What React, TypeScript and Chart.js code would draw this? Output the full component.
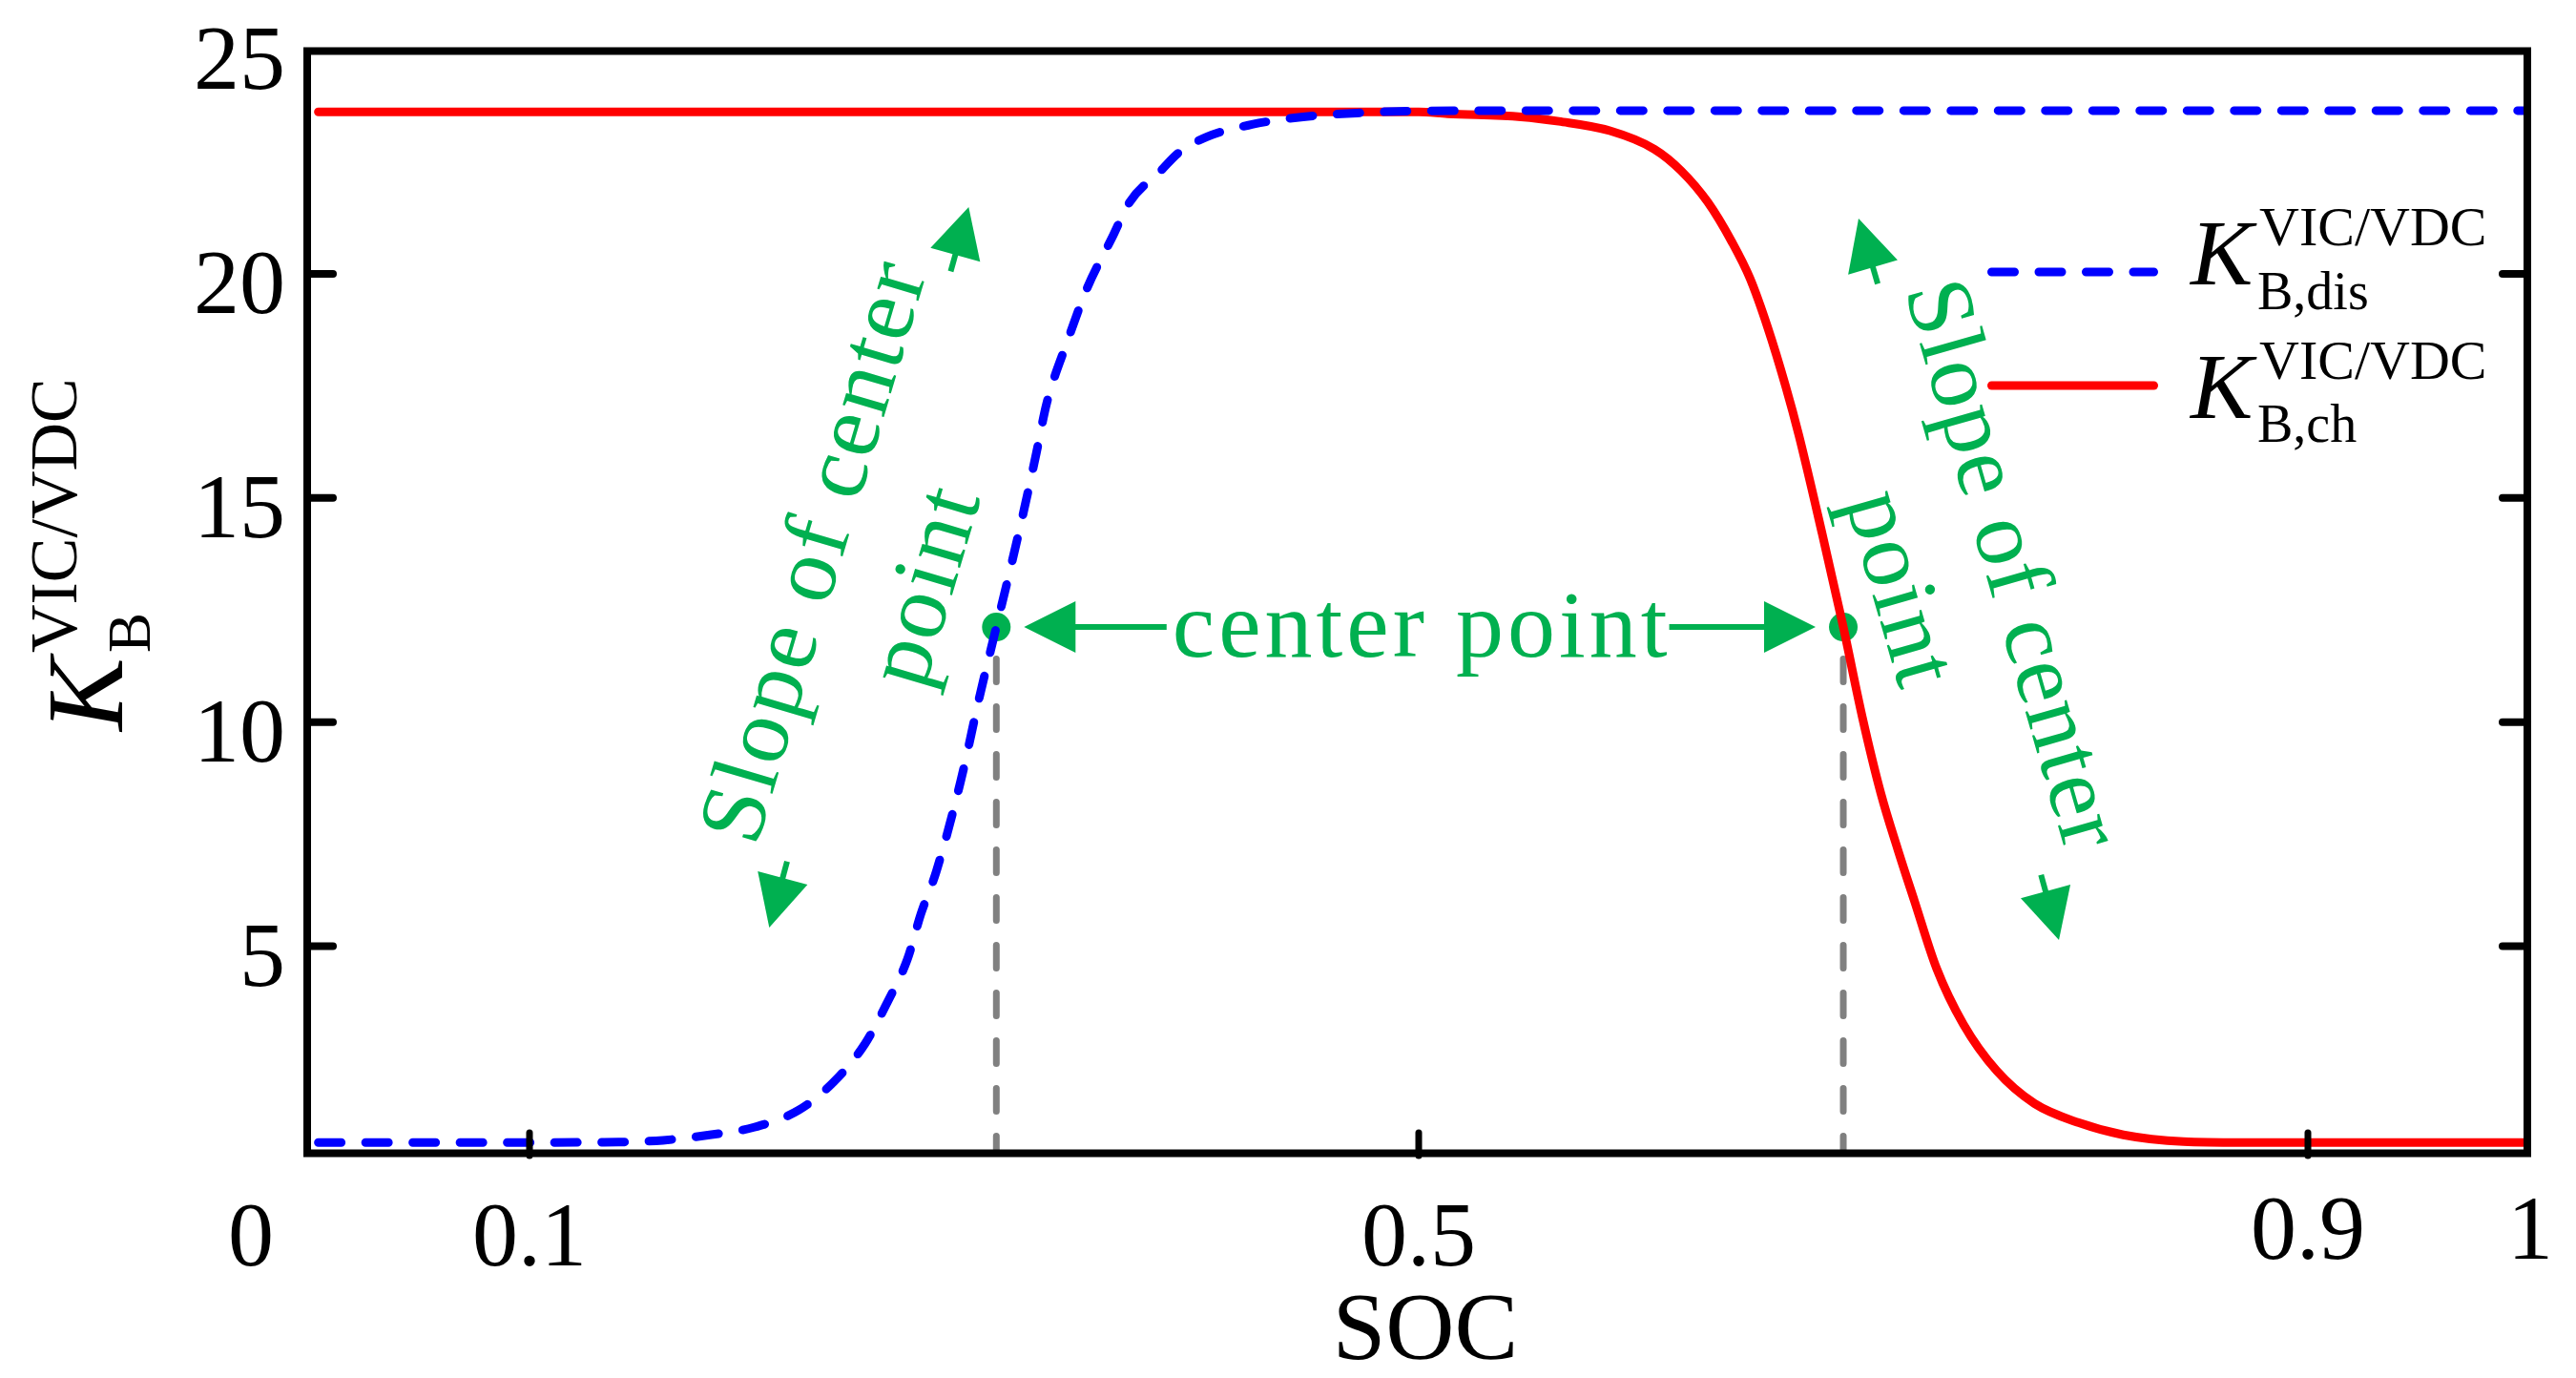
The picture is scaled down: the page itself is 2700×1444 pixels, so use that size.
import React, { useEffect, useRef } from 'react';
import { Chart, registerables } from 'chart.js';

Chart.register(...registerables);

// ---- Data ----
const dischargeSoc = [0.005, 0.08, 0.14, 0.16, 0.181, 0.201, 0.221, 0.237, 0.251, 0.261, 0.27, 0.276, 0.283, 0.294, 0.3026, 0.31, 0.3155, 0.3223, 0.328, 0.3326, 0.342, 0.351, 0.362, 0.37, 0.384, 0.392, 0.405, 0.425, 0.448, 0.474, 0.497, 0.55, 0.997];
const dischargeK = [0.62, 0.62, 0.63, 0.67, 0.79, 0.96, 1.34, 1.98, 2.83, 3.75, 4.71, 5.71, 6.67, 8.69, 10.6, 12.12, 13.25, 14.7, 16.0, 17.1, 18.5, 19.7, 20.8, 21.6, 22.3, 22.7, 23.06, 23.33, 23.5, 23.59, 23.63, 23.64, 23.64];

const chargeSoc = [0.005, 0.5, 0.513, 0.546, 0.563, 0.586, 0.606, 0.618, 0.63, 0.641, 0.649, 0.657, 0.665, 0.671, 0.6815, 0.691, 0.6996, 0.708, 0.7155, 0.723, 0.733, 0.745, 0.76, 0.777, 0.797, 0.817, 0.844, 0.87, 0.997];
const chargeK = [23.61, 23.61, 23.57, 23.5, 23.4, 23.19, 22.78, 22.3, 21.6, 20.7, 19.9, 18.8, 17.5, 16.4, 14.2, 12.12, 10.1, 8.39, 7.16, 6.01, 4.5, 3.26, 2.22, 1.49, 1.06, 0.79, 0.64, 0.62, 0.62];

const centerSoc = [0.31, 0.691];
const centerK = [12.12, 12.12];

const yTickValues = [5, 10, 15, 20, 25];
const yTickLabels = ['5', '10', '15', '20', '25'];
const yInnerTicks = [5, 10, 15, 20];
const xTickValues = [0, 0.1, 0.5, 0.9, 1];
const xTickLabels = ['0', '0.1', '0.5', '0.9', '1'];
const xInnerTicks = [0.1, 0.5, 0.9];

const xTitle = 'SOC';
const yTitleMain = 'K';
const yTitleSub = 'B';
const yTitleSup = 'VIC/VDC';
const legendMain = ['K', 'K'];
const legendSup = ['VIC/VDC', 'VIC/VDC'];
const legendSub = ['B,dis', 'B,ch'];
const centerText = 'center point';
const slopeLines = ['Slope of center', 'point'];

const X_MIN = 0;
const X_MAX = 1;
const Y_MIN = 0.37;
const Y_MAX = 25;

// ---- Styles ----
const FONT = '"Liberation Serif", "Times New Roman", serif';
const BLUE = '#0000FF';
const RED = '#FF0000';
const GREEN = '#00B050';
const GRAY = '#808080';
const BLUE_DASH = [24, 25.5];

function setSpacing(ctx: any, px: number) {
  try { ctx.letterSpacing = px + 'px'; } catch (e) { /* ignore */ }
}

function arrow(ctx: CanvasRenderingContext2D, tx: number, ty: number, bx: number, by: number, shaft: number, halfW: number, lw: number) {
  const dx = tx - bx, dy = ty - by;
  const len = Math.hypot(dx, dy);
  const ux = dx / len, uy = dy / len;
  const nx = -uy, ny = ux;
  if (shaft > 0) {
    ctx.lineWidth = lw;
    ctx.lineCap = 'butt';
    ctx.beginPath();
    ctx.moveTo(bx - ux * shaft, by - uy * shaft);
    ctx.lineTo(bx + ux * 4, by + uy * 4);
    ctx.stroke();
  }
  ctx.beginPath();
  ctx.moveTo(tx, ty);
  ctx.lineTo(bx + nx * halfW, by + ny * halfW);
  ctx.lineTo(bx - nx * halfW, by - ny * halfW);
  ctx.closePath();
  ctx.fill();
}

function rotText(ctx: CanvasRenderingContext2D, text: string, x: number, y: number, deg: number, spacing: number) {
  ctx.save();
  ctx.translate(x, y);
  ctx.rotate((deg * Math.PI) / 180);
  setSpacing(ctx, spacing);
  ctx.textAlign = 'center';
  ctx.textBaseline = 'alphabetic';
  ctx.fillText(text, 0, 0);
  ctx.restore();
}

const decor = {
  id: 'decor',
  beforeDatasetsDraw(chart: any) {
    const { ctx, scales } = chart;
    const x = scales.x, y = scales.y;
    ctx.save();
    // grey dashed drop lines
    ctx.strokeStyle = GRAY;
    ctx.lineWidth = 7;
    ctx.lineCap = 'round';
    ctx.setLineDash([24, 26]);
    centerSoc.forEach((s, i) => {
      const px = x.getPixelForValue(s);
      const py = y.getPixelForValue(centerK[i]);
      ctx.beginPath();
      ctx.moveTo(px, py + 33.5);
      ctx.lineTo(px, y.getPixelForValue(Y_MIN) - 4);
      ctx.stroke();
    });
    ctx.setLineDash([]);
    // green centre dots
    ctx.fillStyle = GREEN;
    centerSoc.forEach((s, i) => {
      const px = x.getPixelForValue(s);
      const py = y.getPixelForValue(centerK[i]);
      ctx.beginPath();
      ctx.arc(px, py, 15, 0, Math.PI * 2);
      ctx.fill();
    });
    ctx.restore();
  },
  afterDatasetsDraw(chart: any) {
    const { ctx, chartArea, scales } = chart;
    const x = scales.x, y = scales.y;
    const { left, right, top, bottom } = chartArea;
    ctx.save();

    // frame
    ctx.strokeStyle = '#000';
    ctx.lineWidth = 8;
    ctx.lineJoin = 'miter';
    ctx.strokeRect(left, top + 1.5, right - left - 3, bottom - top - 2);

    // inner ticks
    ctx.lineCap = 'round';
    ctx.lineWidth = 8;
    yInnerTicks.forEach((v) => {
      const py = y.getPixelForValue(v);
      ctx.beginPath();
      ctx.moveTo(left, py);
      ctx.lineTo(left + 27, py);
      ctx.stroke();
      ctx.beginPath();
      ctx.moveTo(right - 3, py);
      ctx.lineTo(right - 29, py);
      ctx.stroke();
    });
    ctx.lineWidth = 7;
    xInnerTicks.forEach((v) => {
      const px = x.getPixelForValue(v);
      ctx.beginPath();
      ctx.moveTo(px, bottom + 2);
      ctx.lineTo(px, bottom - 22);
      ctx.stroke();
    });

    // tick labels
    ctx.fillStyle = '#000';
    setSpacing(ctx, 0);
    ctx.font = `96px ${FONT}`;
    ctx.textAlign = 'right';
    ctx.textBaseline = 'alphabetic';
    yTickValues.forEach((v, i) => {
      ctx.fillText(yTickLabels[i], left - 23, y.getPixelForValue(v) + 41);
    });
    ctx.textAlign = 'center';
    xTickValues.forEach((v, i) => {
      const off = v === 0 ? -59 : 0;
      const dy = v >= 0.9 ? -7 : 0;
      ctx.fillText(xTickLabels[i], x.getPixelForValue(v) + off, bottom + 117 + dy);
    });

    // x title
    ctx.font = `100px ${FONT}`;
    ctx.fillText(xTitle, (left + right) / 2 + 7, bottom + 214);

    // y title (rotated)
    ctx.save();
    ctx.rotate(-Math.PI / 2);
    ctx.textAlign = 'left';
    ctx.font = `italic 115px ${FONT}`;
    ctx.fillText(yTitleMain, -766, 128);
    ctx.font = `63px ${FONT}`;
    ctx.fillText(yTitleSub, -684, 157);
    ctx.font = `70px ${FONT}`;
    ctx.fillText(yTitleSup, -684, 80);
    ctx.restore();

    // legend
    const legendLineY = [285, 404];
    const legendColors = [BLUE, RED];
    const legendDash = [BLUE_DASH, []];
    const kBase = [298, 438];
    const supBase = [257, 397];
    const subBase = [324, 463];
    for (let i = 0; i < 2; i++) {
      ctx.strokeStyle = legendColors[i];
      ctx.lineWidth = 9;
      ctx.lineCap = 'round';
      ctx.setLineDash(legendDash[i]);
      ctx.beginPath();
      ctx.moveTo(2087.5, legendLineY[i]);
      ctx.lineTo(2257.5, legendLineY[i]);
      ctx.stroke();
      ctx.setLineDash([]);
      ctx.fillStyle = '#000';
      ctx.textAlign = 'left';
      ctx.font = `italic 98px ${FONT}`;
      ctx.fillText(legendMain[i], 2296, kBase[i]);
      ctx.font = `58px ${FONT}`;
      ctx.fillText(legendSup[i], 2368, supBase[i]);
      ctx.font = `56px ${FONT}`;
      ctx.fillText(legendSub[i], 2366, subBase[i]);
    }

    // green annotations
    ctx.fillStyle = GREEN;
    ctx.strokeStyle = GREEN;
    const p0x = x.getPixelForValue(centerSoc[0]);
    const p0y = y.getPixelForValue(centerK[0]);
    const p1x = x.getPixelForValue(centerSoc[1]);
    const p1y = y.getPixelForValue(centerK[1]);

    // "center point" with arrows
    ctx.font = `100px ${FONT}`;
    setSpacing(ctx, 4);
    ctx.textAlign = 'center';
    const midX = (p0x + p1x) / 2 + 2;
    const textY = p0y + 31;
    ctx.fillText(centerText, midX, textY);
    const tw = ctx.measureText(centerText).width;
    setSpacing(ctx, 0);
    const tL = midX - tw / 2 - 6;
    const tR = midX + tw / 2 - 2;
    const tipL = p0x + 29;
    const tipR = p1x - 29;
    ctx.lineWidth = 6;
    ctx.lineCap = 'butt';
    ctx.beginPath();
    ctx.moveTo(tL, p0y);
    ctx.lineTo(tipL + 50, p0y);
    ctx.moveTo(tR, p1y);
    ctx.lineTo(tipR - 50, p1y);
    ctx.stroke();
    arrow(ctx, tipL, p0y, tipL + 54, p0y, 0, 27, 6);
    arrow(ctx, tipR, p1y, tipR - 54, p1y, 0, 27, 6);

    // rotated "Slope of center / point" texts
    ctx.font = `98px ${FONT}`;
    rotText(ctx, slopeLines[0], p0x - 162, p0y - 71, -73.5, 2.5);
    rotText(ctx, slopeLines[1], p0x - 46, p0y - 35, -73.5, 2.5);
    rotText(ctx, slopeLines[0], p1x + 149, p1y - 57, 74, 1.5);
    rotText(ctx, slopeLines[1], p1x + 31, p1y - 32, 74, 1.5);

    // slope arrows
    arrow(ctx, p0x - 29, p0y - 440, p0x - 43, p0y - 390, 18, 27, 6);
    arrow(ctx, p0x - 238, p0y + 315, p0x - 224, p0y + 263, 18, 27, 6);
    arrow(ctx, p1x + 16, p1y - 428, p1x + 31, p1y - 377, 18, 27, 6);
    arrow(ctx, p1x + 226, p1y + 328, p1x + 212, p1y + 277, 18, 27, 6);

    ctx.restore();
  },
};

export default function App() {
  const ref = useRef<HTMLCanvasElement>(null);
  useEffect(() => {
    const canvas = ref.current;
    if (!canvas) return;
    const chart = new Chart(canvas, {
      type: 'line',
      data: {
        datasets: [
          {
            label: 'K_B,dis',
            data: dischargeSoc.map((s, i) => ({ x: s, y: dischargeK[i] })),
            borderColor: BLUE,
            backgroundColor: BLUE,
            borderWidth: 9,
            borderDash: BLUE_DASH,
            borderCapStyle: 'round',
            borderJoinStyle: 'round',
            pointRadius: 0,
            cubicInterpolationMode: 'monotone',
            fill: false,
          },
          {
            label: 'K_B,ch',
            data: chargeSoc.map((s, i) => ({ x: s, y: chargeK[i] })),
            borderColor: RED,
            backgroundColor: RED,
            borderWidth: 9,
            borderCapStyle: 'round',
            borderJoinStyle: 'round',
            pointRadius: 0,
            cubicInterpolationMode: 'monotone',
            fill: false,
          },
        ],
      },
      options: {
        responsive: false,
        animation: false,
        devicePixelRatio: 1,
        events: [],
        layout: { padding: { left: 322, right: 48, top: 52, bottom: 235 } },
        plugins: {
          legend: { display: false },
          tooltip: { enabled: false },
          title: { display: false },
        },
        scales: {
          x: { type: 'linear', min: X_MIN, max: X_MAX, display: false },
          y: { type: 'linear', min: Y_MIN, max: Y_MAX, display: false },
        },
      },
      plugins: [decor],
    } as any);
    return () => chart.destroy();
  }, []);
  return (
    <div style={{ position: 'absolute', left: 0, top: 0, width: 2700, height: 1444, background: '#ffffff' }}>
      <canvas ref={ref} width={2700} height={1444} style={{ display: 'block', width: 2700, height: 1444 }} />
    </div>
  );
}
